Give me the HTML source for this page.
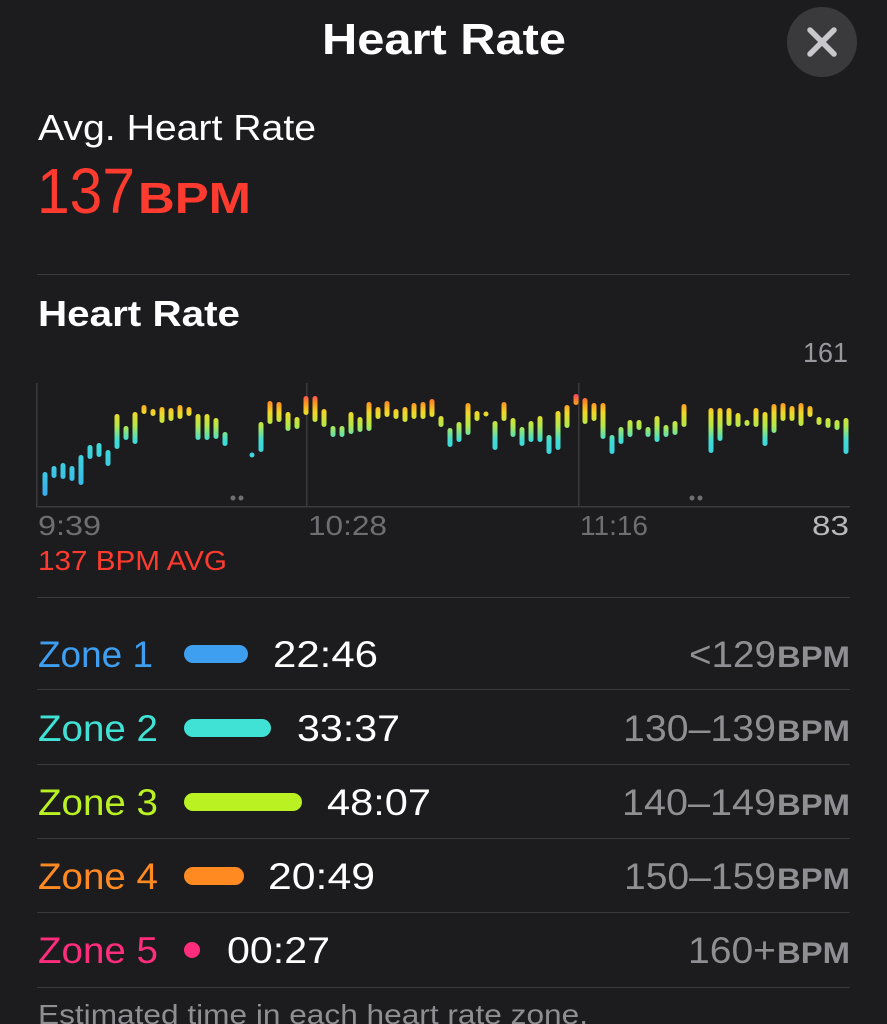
<!DOCTYPE html>
<html><head><meta charset="utf-8"><style>
html,body{margin:0;padding:0;background:#1c1c1e;}
svg{display:block;font-family:"Liberation Sans",sans-serif;}
</style></head><body>
<svg width="887" height="1024" viewBox="0 0 887 1024" xmlns="http://www.w3.org/2000/svg">
<defs>
<linearGradient id="g" gradientUnits="userSpaceOnUse" x1="0" y1="392" x2="0" y2="500">
<stop offset="0" stop-color="#ff2d78"/>
<stop offset="0.09" stop-color="#ff8a24"/>
<stop offset="0.19" stop-color="#f0d828"/>
<stop offset="0.31" stop-color="#b4e84a"/>
<stop offset="0.45" stop-color="#40dcd6"/>
<stop offset="0.75" stop-color="#3cc6e6"/>
<stop offset="1" stop-color="#3aa4ec"/>
</linearGradient>
</defs>
<rect width="887" height="1024" fill="#1c1c1e"/>
<text x="322" y="54" fill="#fff" font-size="44" font-weight="bold" textLength="244" lengthAdjust="spacingAndGlyphs">Heart Rate</text>
<circle cx="822" cy="42" r="35" fill="#3a3a3c"/>
<path d="M810 30 L834 54 M834 30 L810 54" stroke="#c7c7cc" stroke-width="5.5" stroke-linecap="round"/>
<text x="38" y="140" fill="#fff" font-size="36" textLength="278" lengthAdjust="spacingAndGlyphs">Avg. Heart Rate</text>
<text x="37" y="213" fill="#ff3b2f" font-size="64" textLength="98" lengthAdjust="spacingAndGlyphs">137</text>
<text x="138" y="213" fill="#ff3b2f" font-size="44" font-weight="bold" textLength="113" lengthAdjust="spacingAndGlyphs">BPM</text>
<rect x="37" y="274" width="813" height="1" fill="#3a3a3c"/>
<text x="38" y="326" fill="#fff" font-size="36" font-weight="bold" textLength="202" lengthAdjust="spacingAndGlyphs">Heart Rate</text>
<text x="803" y="362" fill="#98989e" font-size="28" textLength="45" lengthAdjust="spacingAndGlyphs">161</text>
<g fill="#3a3a3c">
<rect x="36" y="383" width="1.5" height="124"/>
<rect x="306" y="383" width="1.5" height="124"/>
<rect x="578" y="383" width="1.5" height="124"/>
<rect x="36" y="506" width="814" height="1.5"/>
</g>
<g fill="#6e6e73"><circle cx="233" cy="498" r="2.5"/><circle cx="241" cy="498" r="2.5"/><circle cx="692" cy="498" r="2.5"/><circle cx="700" cy="498" r="2.5"/></g>
<g fill="url(#g)">
<rect x="42.5" y="472" width="5" height="24" rx="2.5"/>
<rect x="51.5" y="466" width="5" height="12" rx="2.5"/>
<rect x="60.5" y="463" width="5" height="16" rx="2.5"/>
<rect x="69.5" y="466" width="5" height="15" rx="2.5"/>
<rect x="78.5" y="455" width="5" height="30" rx="2.5"/>
<rect x="87.5" y="445" width="5" height="14" rx="2.5"/>
<rect x="96.5" y="443" width="5" height="14" rx="2.5"/>
<rect x="105.5" y="450" width="5" height="16" rx="2.5"/>
<rect x="114.5" y="414" width="5" height="35" rx="2.5"/>
<rect x="123.5" y="426" width="5" height="14" rx="2.5"/>
<rect x="132.5" y="412" width="5" height="32" rx="2.5"/>
<rect x="141.5" y="405" width="5" height="9" rx="2.5"/>
<rect x="150.5" y="409" width="5" height="7" rx="2.5"/>
<rect x="159.5" y="407" width="5" height="16" rx="2.5"/>
<rect x="168.5" y="408" width="5" height="13" rx="2.5"/>
<rect x="177.5" y="405" width="5" height="14" rx="2.5"/>
<rect x="186.5" y="407" width="5" height="9" rx="2.5"/>
<rect x="195.5" y="414" width="5" height="26" rx="2.5"/>
<rect x="204.5" y="414" width="5" height="26" rx="2.5"/>
<rect x="213.5" y="418" width="5" height="21" rx="2.5"/>
<rect x="222.5" y="432" width="5" height="14" rx="2.5"/>
<circle cx="252" cy="455" r="2.5"/>
<rect x="258.5" y="422" width="5" height="30" rx="2.5"/>
<rect x="267.5" y="401" width="5" height="23" rx="2.5"/>
<rect x="276.5" y="402" width="5" height="20" rx="2.5"/>
<rect x="285.5" y="412" width="5" height="19" rx="2.5"/>
<rect x="294.5" y="417" width="5" height="12" rx="2.5"/>
<rect x="303.5" y="396" width="5" height="19" rx="2.5"/>
<rect x="312.5" y="396" width="5" height="26" rx="2.5"/>
<rect x="321.5" y="409" width="5" height="18" rx="2.5"/>
<rect x="330.5" y="426" width="5" height="11" rx="2.5"/>
<rect x="339.5" y="426" width="5" height="11" rx="2.5"/>
<rect x="348.5" y="412" width="5" height="22" rx="2.5"/>
<rect x="357.5" y="417" width="5" height="15" rx="2.5"/>
<rect x="366.5" y="402" width="5" height="29" rx="2.5"/>
<rect x="375.5" y="407" width="5" height="12" rx="2.5"/>
<rect x="384.5" y="401" width="5" height="16" rx="2.5"/>
<rect x="393.5" y="409" width="5" height="10" rx="2.5"/>
<rect x="402.5" y="407" width="5" height="15" rx="2.5"/>
<rect x="411.5" y="403" width="5" height="16" rx="2.5"/>
<rect x="420.5" y="402" width="5" height="17" rx="2.5"/>
<rect x="429.5" y="399" width="5" height="18" rx="2.5"/>
<rect x="438.5" y="416" width="5" height="11" rx="2.5"/>
<rect x="447.5" y="428" width="5" height="19" rx="2.5"/>
<rect x="456.5" y="422" width="5" height="20" rx="2.5"/>
<rect x="465.5" y="403" width="5" height="32" rx="2.5"/>
<rect x="474.5" y="411" width="5" height="10" rx="2.5"/>
<circle cx="486" cy="414" r="2.5"/>
<rect x="492.5" y="421" width="5" height="29" rx="2.5"/>
<rect x="501.5" y="402" width="5" height="19" rx="2.5"/>
<rect x="510.5" y="418" width="5" height="19" rx="2.5"/>
<rect x="519.5" y="427" width="5" height="19" rx="2.5"/>
<rect x="528.5" y="421" width="5" height="21" rx="2.5"/>
<rect x="537.5" y="416" width="5" height="26" rx="2.5"/>
<rect x="546.5" y="435" width="5" height="19" rx="2.5"/>
<rect x="555.5" y="411" width="5" height="39" rx="2.5"/>
<rect x="564.5" y="405" width="5" height="23" rx="2.5"/>
<rect x="573.5" y="394" width="5" height="11" rx="2.5"/>
<rect x="582.5" y="398" width="5" height="26" rx="2.5"/>
<rect x="591.5" y="403" width="5" height="18" rx="2.5"/>
<rect x="600.5" y="403" width="5" height="36" rx="2.5"/>
<rect x="609.5" y="435" width="5" height="19" rx="2.5"/>
<rect x="618.5" y="427" width="5" height="17" rx="2.5"/>
<rect x="627.5" y="420" width="5" height="17" rx="2.5"/>
<rect x="636.5" y="420" width="5" height="10" rx="2.5"/>
<rect x="645.5" y="427" width="5" height="10" rx="2.5"/>
<rect x="654.5" y="416" width="5" height="26" rx="2.5"/>
<rect x="663.5" y="425" width="5" height="12" rx="2.5"/>
<rect x="672.5" y="421" width="5" height="14" rx="2.5"/>
<rect x="681.5" y="404" width="5" height="23" rx="2.5"/>
<rect x="708.5" y="408" width="5" height="45" rx="2.5"/>
<rect x="717.5" y="408" width="5" height="33" rx="2.5"/>
<rect x="726.5" y="408" width="5" height="18" rx="2.5"/>
<rect x="735.5" y="413" width="5" height="14" rx="2.5"/>
<rect x="744.5" y="420" width="5" height="6" rx="2.5"/>
<rect x="753.5" y="408" width="5" height="19" rx="2.5"/>
<rect x="762.5" y="412" width="5" height="34" rx="2.5"/>
<rect x="771.5" y="404" width="5" height="29" rx="2.5"/>
<rect x="780.5" y="403" width="5" height="18" rx="2.5"/>
<rect x="789.5" y="406" width="5" height="15" rx="2.5"/>
<rect x="798.5" y="403" width="5" height="23" rx="2.5"/>
<rect x="807.5" y="406" width="5" height="11" rx="2.5"/>
<rect x="816.5" y="417" width="5" height="8" rx="2.5"/>
<rect x="825.5" y="418" width="5" height="10" rx="2.5"/>
<rect x="834.5" y="420" width="5" height="10" rx="2.5"/>
<rect x="843.5" y="418" width="5" height="36" rx="2.5"/>
</g>
<g font-size="28" fill="#6e6e73">
<text x="38" y="535" textLength="63" lengthAdjust="spacingAndGlyphs">9:39</text>
<text x="308" y="535" textLength="79" lengthAdjust="spacingAndGlyphs">10:28</text>
<text x="580" y="535" textLength="68" lengthAdjust="spacingAndGlyphs">11:16</text>
</g>
<text x="812" y="535" font-size="28" fill="#b8b8bd" textLength="37" lengthAdjust="spacingAndGlyphs">83</text>
<text x="38" y="570" font-size="28" fill="#ff3b2f" textLength="189" lengthAdjust="spacingAndGlyphs">137 BPM AVG</text>
<g fill="#3a3a3c">
<rect x="37" y="597" width="813" height="1"/>
<rect x="37" y="689" width="813" height="1"/>
<rect x="37" y="764" width="813" height="1"/>
<rect x="37" y="838" width="813" height="1"/>
<rect x="37" y="912" width="813" height="1"/>
<rect x="37" y="987" width="813" height="1"/>
</g>
<g font-size="37">
<text x="38" y="667" fill="#3e9ef0" textLength="115" lengthAdjust="spacingAndGlyphs">Zone 1</text>
<text x="38" y="741" fill="#40e2d6" textLength="120" lengthAdjust="spacingAndGlyphs">Zone 2</text>
<text x="38" y="815" fill="#b9f123" textLength="120" lengthAdjust="spacingAndGlyphs">Zone 3</text>
<text x="38" y="889" fill="#ff8a22" textLength="120" lengthAdjust="spacingAndGlyphs">Zone 4</text>
<text x="38" y="963" fill="#ff2d7c" textLength="120" lengthAdjust="spacingAndGlyphs">Zone 5</text>
</g>
<rect x="184" y="645" width="64" height="18" rx="9" fill="#3e9ef0"/>
<rect x="184" y="719" width="87" height="18" rx="9" fill="#40e2d6"/>
<rect x="184" y="793" width="118" height="18" rx="9" fill="#b9f123"/>
<rect x="184" y="867" width="60" height="18" rx="9" fill="#ff8a22"/>
<circle cx="192" cy="950" r="8" fill="#ff2d7c"/>
<g font-size="37" fill="#fff">
<text x="273" y="667" textLength="105" lengthAdjust="spacingAndGlyphs">22:46</text>
<text x="297" y="741" textLength="103" lengthAdjust="spacingAndGlyphs">33:37</text>
<text x="327" y="815" textLength="104" lengthAdjust="spacingAndGlyphs">48:07</text>
<text x="268" y="889" textLength="107" lengthAdjust="spacingAndGlyphs">20:49</text>
<text x="227" y="963" textLength="103" lengthAdjust="spacingAndGlyphs">00:27</text>
</g>
<g fill="#8e8e93">
<text x="689" y="667" font-size="37" textLength="87" lengthAdjust="spacingAndGlyphs">&lt;129</text>
<text x="623" y="741" font-size="37" textLength="153" lengthAdjust="spacingAndGlyphs">130–139</text>
<text x="622" y="815" font-size="37" textLength="154" lengthAdjust="spacingAndGlyphs">140–149</text>
<text x="624" y="889" font-size="37" textLength="152" lengthAdjust="spacingAndGlyphs">150–159</text>
<text x="688" y="963" font-size="37" textLength="88" lengthAdjust="spacingAndGlyphs">160+</text>
<g font-size="30" font-weight="bold">
<text x="777" y="667" textLength="73" lengthAdjust="spacingAndGlyphs">BPM</text>
<text x="777" y="741" textLength="73" lengthAdjust="spacingAndGlyphs">BPM</text>
<text x="777" y="815" textLength="73" lengthAdjust="spacingAndGlyphs">BPM</text>
<text x="777" y="889" textLength="73" lengthAdjust="spacingAndGlyphs">BPM</text>
<text x="777" y="963" textLength="73" lengthAdjust="spacingAndGlyphs">BPM</text>
</g>
</g>
<text x="38" y="1024" font-size="28" fill="#8e8e93" textLength="550" lengthAdjust="spacingAndGlyphs">Estimated time in each heart rate zone.</text>
</svg>
</body></html>
